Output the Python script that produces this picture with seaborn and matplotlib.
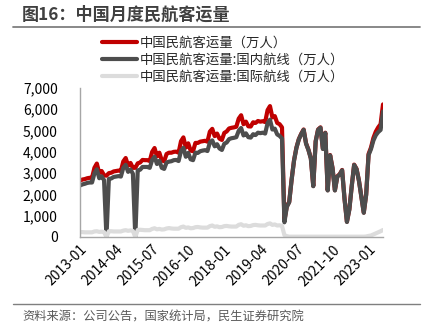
import matplotlib
matplotlib.use("Agg")
import matplotlib.pyplot as plt
import seaborn as sns
import pandas as pd
import numpy as np
from matplotlib.lines import Line2D

sns.set_theme(style="white")
plt.rcParams['font.family'] = ['Noto Sans CJK SC', 'DejaVu Sans']
plt.rcParams['axes.unicode_minus'] = False

# monthly data 2013-01 .. 2023-07 (万人)
months = pd.period_range("2013-01", "2023-07", freq="M").strftime("%Y-%m").tolist()

total = [
    2650, 2700, 2720, 2760, 2780, 2780, 3250, 3450, 3000, 3100, 2900, 2880,  # 2013
    3000, 3020, 3080, 3100, 3120, 3100, 3550, 3710, 3350, 3480, 3250, 3250,  # 2014
    3460, 3500, 3620, 3610, 3610, 3570, 4000, 4180, 3790, 3960, 3600, 3560,  # 2015
    3900, 3960, 3960, 4000, 4010, 3960, 4500, 4680, 4200, 4400, 4060, 4030,  # 2016
    4420, 4420, 4480, 4500, 4520, 4480, 4950, 5080, 4740, 4860, 4620, 4560,  # 2017
    4890, 4960, 5100, 5130, 5150, 5180, 5560, 5720, 5300, 5420, 5200, 5190,  # 2018
    5390, 5360, 5450, 5420, 5440, 5400, 5960, 6150, 5620, 5680, 5360, 5300,  # 2019
    5150, 780, 1450, 1650, 2700, 3600, 4200, 4600, 4850, 5050, 4400, 4100,   # 2020
    3700, 2400, 4500, 5050, 5150, 4150, 4900, 2200, 3850, 3250, 2200, 2850,  # 2021
    2950, 3150, 1800, 720, 1300, 2400, 3400, 3200, 2650, 1900, 1150, 2000,   # 2022
    3900, 4200, 4650, 4950, 5150, 5300, 6230,                                # 2023
]

domestic = [
    2420, 2470, 2500, 2540, 2560, 2560, 2990, 3180, 2760, 2850, 2670, 0,
    2730, 2750, 2820, 2840, 2860, 2840, 3250, 3390, 3060, 3170, 2970, 0,
    3130, 3160, 3290, 3290, 3290, 3250, 3620, 3770, 3430, 3580, 3250, 3200,
    3500, 3540, 3560, 3610, 3620, 3570, 4040, 4190, 3770, 3950, 3650, 3610,
    3960, 3950, 4030, 4060, 4080, 4040, 4440, 4540, 4260, 4360, 4160, 4090,
    4380, 4440, 4600, 4640, 4660, 4690, 4990, 5120, 4770, 4870, 4690, 4670,
    4830, 4790, 4900, 4880, 4900, 4860, 5350, 5510, 5050, 5090, 4820, 4750,
    4630, 690, 1410, 1635, 2685, 3585, 4185, 4585, 4835, 5035, 4385, 4085,
    3685, 2385, 4485, 5035, 5135, 4135, 4885, 2185, 3835, 3235, 2185, 2835,
    2935, 3135, 1785, 705, 1285, 2385, 3385, 3185, 2635, 1885, 1135, 1975,
    3850, 4130, 4530, 4780, 4930, 5030, 5900,
]

international = [
    230, 230, 220, 220, 220, 220, 260, 270, 240, 250, 230, 0,
    270, 270, 260, 260, 260, 260, 300, 320, 290, 310, 280, 0,
    330, 340, 330, 320, 320, 320, 380, 410, 360, 380, 350, 360,
    400, 420, 400, 390, 390, 390, 460, 490, 430, 450, 410, 420,
    460, 470, 450, 440, 440, 440, 510, 540, 480, 500, 460, 470,
    510, 520, 500, 490, 490, 490, 570, 600, 530, 550, 510, 520,
    560, 570, 550, 540, 540, 540, 610, 640, 570, 590, 540, 550,
    520, 90, 40, 15, 15, 15, 15, 15, 15, 15, 15, 15,
    15, 15, 15, 15, 15, 15, 15, 15, 15, 15, 15, 15,
    15, 15, 15, 15, 15, 15, 15, 15, 15, 15, 15, 25,
    50, 70, 120, 170, 220, 270, 330,
]

series_names = ["中国民航客运量（万人）", "中国民航客运量:国内航线（万人）", "中国民航客运量:国际航线（万人）"]
colors = ["#C00000", "#4D4D4D", "#DCDCDC"]
tick_step = 15

df = pd.DataFrame({"idx": np.arange(len(months)), "month": months,
                   series_names[0]: total, series_names[1]: domestic, series_names[2]: international})
long = df.melt(id_vars=["idx", "month"], var_name="series", value_name="value")

fig = plt.figure(figsize=(4.33, 3.30), dpi=100)
ax = fig.add_axes([80/433, 1-237/330, (383-80)/433, (237-88)/330])

sns.lineplot(data=long, x="idx", y="value", hue="series", hue_order=series_names,
             palette=colors, linewidth=3.0, ax=ax, legend=False, sort=False)

ax.set_xlim(0, len(months) - 1)
ax.set_ylim(0, 7000)
ax.set_yticks(range(0, 7001, 1000))
ax.set_yticklabels([f"{v:,}" for v in range(0, 7001, 1000)], fontsize=10, color="#000000")
xt = list(range(0, len(months), tick_step))
ax.set_xticks(xt)
ax.set_xticklabels([months[i] for i in xt], rotation=45, ha="right", rotation_mode="anchor",
                   fontsize=10, color="#000000")
ax.set_xlabel("")
ax.set_ylabel("")
for s in ["top", "right"]:
    ax.spines[s].set_visible(False)
for s in ["left", "bottom"]:
    ax.spines[s].set_color("#A6A6A6")
    ax.spines[s].set_linewidth(1.0)
ax.tick_params(axis="both", direction="in", length=4, width=0.8, color="#A6A6A6", pad=4)
ax.tick_params(axis="y", pad=16)
ax.grid(False)

handles = [Line2D([0], [0], color=c, lw=3.0) for c in colors]
fig.legend(handles, series_names, loc="upper left", bbox_to_anchor=(102/433, 1-36/330),
           frameon=False, fontsize=9.6, handlelength=2.6, handletextpad=0.25,
           labelspacing=0.2, borderaxespad=0, borderpad=0)

fig.text(22/433, 1-15/330, "图16：中国月度民航客运量", fontsize=12.3, fontweight="bold",
         color="#404040", va="center", ha="left")
fig.add_artist(Line2D([13/433, 420/433], [1-27/330, 1-27/330], color="#7F7F7F", lw=1.3,
                      transform=fig.transFigure))
fig.add_artist(Line2D([13/433, 420/433], [1-304/330, 1-304/330], color="#7F7F7F", lw=1.0,
                      transform=fig.transFigure))
fig.text(22/433, 1-317/330, "资料来源：公司公告，国家统计局，民生证券研究院", fontsize=8.8,
         color="#595959", va="center", ha="left")

fig.savefig("out.png", dpi=100)
